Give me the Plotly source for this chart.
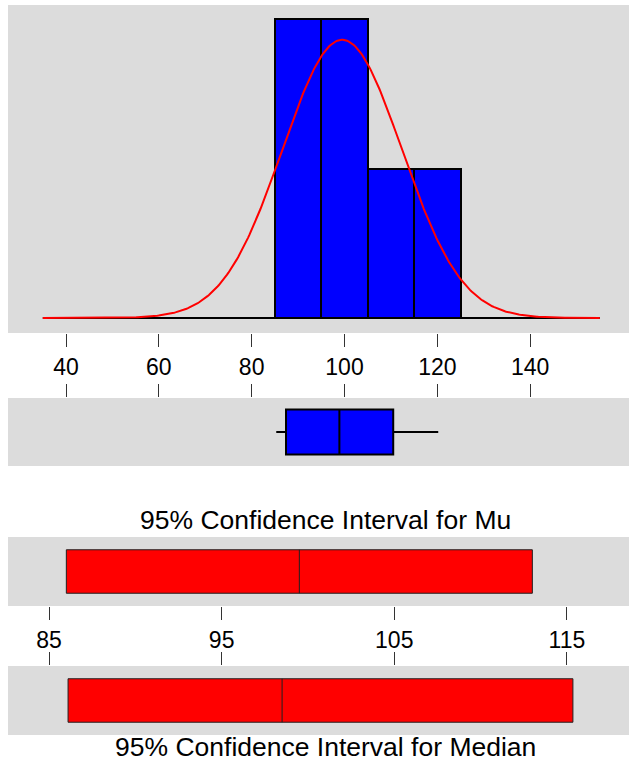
import numpy as np
import plotly.graph_objects as go

# histogram (bin edges / counts), sample stats
bin_edges = [85, 95, 105, 115, 125]
bin_counts = [2, 2, 1, 1]
n_obs = 6
mean_val = 99.5
sd_val = 12.86
curve_span = [35, 155]

# boxplot summary
box_min, box_q1, box_med, box_q3, box_max = 85.3, 87.4, 98.9, 110.5, 120.2

# confidence intervals
mu_ci = [86.0, 99.5, 113.0]
median_ci = [86.1, 98.5, 115.35]

hist_ticks = [40, 60, 80, 100, 120, 140]
ci_ticks = [85, 95, 105, 115]

GRAY = "#DCDCDC"
FONT = "Liberation Sans, Arial, sans-serif"
W, H = 629, 762


def dom(top_px, bot_px):
    # pixel rows -> paper fraction
    return [1 - bot_px / H, 1 - top_px / H]


fig = go.Figure()

# histogram as density bars
widths = np.diff(bin_edges)
centers = [(a + b) / 2 for a, b in zip(bin_edges[:-1], bin_edges[1:])]
dens = [c / (n_obs * w) for c, w in zip(bin_counts, widths)]
fig.add_trace(go.Bar(x=centers, y=dens, width=list(widths), marker_color="#0000FF",
                     marker_line=dict(color="black", width=2),
                     xaxis="x", yaxis="y", showlegend=False))

# fitted normal curve + baseline
xs = np.linspace(curve_span[0], curve_span[1], 400)
pdf = np.exp(-0.5 * ((xs - mean_val) / sd_val) ** 2) / (sd_val * np.sqrt(2 * np.pi))
fig.add_trace(go.Scatter(x=curve_span, y=[0, 0], mode="lines",
                         line=dict(color="black", width=2), xaxis="x", yaxis="y",
                         showlegend=False))
fig.add_trace(go.Scatter(x=xs, y=pdf, mode="lines", line=dict(color="#FF0000", width=2),
                         xaxis="x", yaxis="y", showlegend=False))

# boxplot
fig.add_trace(go.Box(y=[0], q1=[box_q1], median=[box_med], q3=[box_q3],
                     lowerfence=[box_min], upperfence=[box_max], orientation="h",
                     fillcolor="#0000FF", line=dict(color="black", width=2),
                     whiskerwidth=0, width=1.32, xaxis="x2", yaxis="y2",
                     showlegend=False, boxpoints=False))

# CI boxes
for ci, xa, ya in [(mu_ci, "x3", "y3"), (median_ci, "x4", "y4")]:
    fig.add_trace(go.Box(y=[0], q1=[ci[0]], median=[ci[1]], q3=[ci[2]],
                         lowerfence=[ci[0]], upperfence=[ci[2]], orientation="h",
                         fillcolor="#FF0000", line=dict(color="#202020", width=1),
                         whiskerwidth=0, width=1.26, xaxis=xa, yaxis=ya,
                         showlegend=False, boxpoints=False))

hist_range = [27.5, 161.3]
ci_range = [82.62, 118.6]

base_x = dict(showgrid=False, zeroline=False, showline=False, ticks="outside",
              ticklen=13, tickwidth=1, tickcolor="#333",
              tickfont=dict(family=FONT, size=23, color="black"))
base_y = dict(showgrid=False, zeroline=False, showticklabels=False, ticks="",
              showline=False, fixedrange=True)

fig.update_layout(
    width=W, height=H,
    margin=dict(l=8, r=0, t=0, b=0),
    paper_bgcolor="white",
    plot_bgcolor=GRAY,
    bargap=0,
    xaxis=dict(base_x, domain=[0, 1], range=hist_range, tickvals=hist_ticks,
               anchor="y"),
    yaxis=dict(base_y, domain=dom(5, 333), range=[-0.00167, 0.0349]),
    xaxis2=dict(base_x, domain=[0, 1], range=hist_range, tickvals=hist_ticks,
                side="top", showticklabels=False, anchor="y2"),
    yaxis2=dict(base_y, domain=dom(398, 466), range=[-1, 1]),
    xaxis3=dict(base_x, domain=[0, 1], range=ci_range, tickvals=ci_ticks,
                anchor="y3"),
    yaxis3=dict(base_y, domain=dom(537, 606), range=[-1, 1]),
    xaxis4=dict(base_x, domain=[0, 1], range=ci_range, tickvals=ci_ticks,
                side="top", showticklabels=False, anchor="y4"),
    yaxis4=dict(base_y, domain=dom(666, 735), range=[-1, 1]),
)

tx = 322 / W
fig.add_annotation(text="95% Confidence Interval for Mu", x=tx, y=1 - 520 / H,
                   xref="paper", yref="paper", showarrow=False,
                   xanchor="center", yanchor="middle",
                   font=dict(family=FONT, size=26.5, color="black"))
fig.add_annotation(text="95% Confidence Interval for Median", x=tx, y=1 - 747 / H,
                   xref="paper", yref="paper", showarrow=False,
                   xanchor="center", yanchor="middle",
                   font=dict(family=FONT, size=26.5, color="black"))

# drop the default page margin so the figure sits at the window's corner
fig.write_html("out.html", config={"displayModeBar": False},
               post_script="document.body.style.margin='0';")
